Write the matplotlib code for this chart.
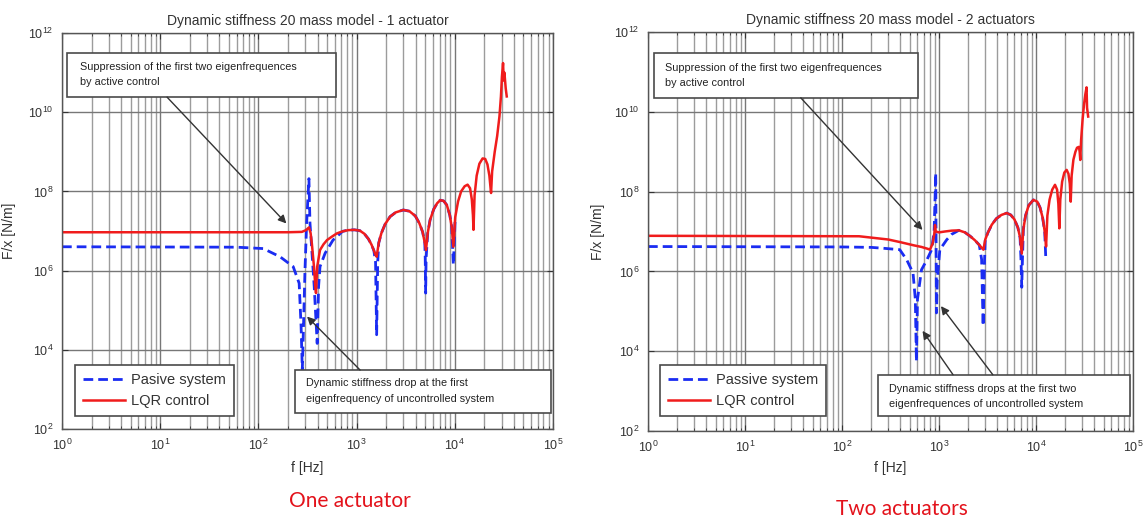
import numpy as np
import matplotlib.pyplot as plt
from matplotlib.patches import Rectangle
from matplotlib.ticker import LogLocator, NullLocator

plt.rcParams['font.family'] = ['Liberation Sans', 'DejaVu Sans']
plt.rcParams['mathtext.fontset'] = 'custom'
plt.rcParams['mathtext.rm'] = 'Liberation Sans'
plt.rcParams['mathtext.it'] = 'Liberation Sans:italic'

# ---- 1 actuator ----
f_lqr_1 = [1, 200, 277, 305, 327, 340, 350, 368, 380, 386, 392, 397, 424, 460, 500,
           560, 630, 720, 820, 950, 1080, 1200, 1320, 1420, 1500, 1560, 1600, 1680,
           1790, 1950, 2190, 2500, 2990, 3450, 3960, 4350, 4700, 4950, 5090, 5300,
           5600, 6100, 6600, 7100, 7700, 8300, 8900, 9300, 9670, 10100, 10800, 11600,
           12600, 13500, 14300, 14900, 15300, 15500, 15900, 16700, 17800, 19200,
           20400, 21500, 22500, 23100, 23400, 24000, 25500, 27000, 28500, 29500,
           30200, 31000, 31500, 32000, 33000, 33800]
k_lqr_1 = [9.3e6, 9.3e6, 9.5e6, 1.05e7, 1.23e7, 8.9e6, 4.9e6, 1.26e6, 4.0e5, 2.7e5,
           6.3e5, 1.26e6, 3.3e6, 4.6e6, 5.9e6, 7.2e6, 8.7e6, 9.8e6, 1.05e7, 1.07e7,
           1.02e7, 8.5e6, 6.3e6, 4.5e6, 3.2e6, 2.5e6, 2.24e6, 5.0e6, 8.9e6, 1.48e7,
           2.3e7, 2.95e7, 3.4e7, 3.16e7, 2.4e7, 1.58e7, 9.5e6, 5.0e6, 3.3e6, 8.9e6,
           1.9e7, 3.55e7, 5.0e7, 6.0e7, 5.75e7, 4.5e7, 2.5e7, 1.26e7, 4.0e6, 2.24e7,
           5.6e7, 1.0e8, 1.35e8, 1.48e8, 1.2e8, 6.3e7, 2.5e7, 1.07e7, 7.9e7, 2.5e8,
           5.0e8, 6.8e8, 6.6e8, 4.8e8, 2.5e8, 1.26e8, 9.1e7, 3.2e8, 1.0e9, 2.5e9,
           7.9e9, 2.5e10, 7.9e10, 1.74e11, 6.3e10, 1.0e11, 4.0e10, 2.5e10]

f_pas_1 = [1, 60, 112, 166, 226, 260, 272, 280, 288, 298, 310, 327, 335, 350, 370,
           397, 410, 424, 478, 575, 720, 820, 950, 1080, 1200, 1320, 1420, 1500,
           1560, 1600, 1640, 1680, 1790, 1950, 2190, 2500, 2990, 3450, 3960, 4350,
           4700, 4950, 5000, 5050, 5100, 5300, 5600, 6100, 6600, 7100, 7700, 8300,
           8900, 9300, 9670, 10100]
k_pas_1 = [4.0e6, 3.9e6, 3.6e6, 2.24e6, 1.26e6, 4.8e5, 4.0e4, 3.2e3, 4.0e4, 1.0e6,
           1.6e7, 2.1e8, 1.6e7, 3.3e6, 4.0e5, 1.45e4, 4.0e5, 1.26e6, 2.75e6, 5.9e6,
           9.8e6, 1.05e7, 1.07e7, 1.02e7, 8.5e6, 6.3e6, 4.5e6, 3.2e6, 1.6e6, 2.4e4,
           1.6e6, 5.0e6, 8.9e6, 1.48e7, 2.3e7, 2.95e7, 3.4e7, 3.16e7, 2.4e7, 1.58e7,
           9.5e6, 5.0e6, 2.0e6, 2.7e5, 2.0e6, 8.9e6, 1.9e7, 3.55e7, 5.0e7, 6.0e7,
           5.75e7, 4.5e7, 2.5e7, 1.26e7, 1.4e6, 2.24e7]

# ---- 2 actuators ----
f_lqr_2 = [1, 150, 300, 400, 550, 660, 760, 807, 860, 895, 910, 925, 1000, 1150,
           1350, 1600, 1850, 2100, 2350, 2600, 2870, 3000, 3200, 3500, 3900, 4400,
           4990, 5500, 6000, 6500, 6850, 7130, 7400, 7800, 8400, 9400, 10300, 11000,
           11700, 12300, 12700, 13100, 13800, 14700, 15700, 16500, 17000, 17400,
           17800, 18600, 19600, 20700, 21600, 22300, 22800, 23300, 24300, 25500,
           26500, 27700, 28200, 28600, 29200, 30200, 31300, 32300, 33200, 33600,
           34500]
k_lqr_2 = [7.8e6, 7.6e6, 6.3e6, 5.4e6, 4.5e6, 4.1e6, 3.7e6, 3.5e6, 5.0e6, 8.9e6,
           1.45e7, 1.0e7, 9.5e6, 1.0e7, 1.05e7, 1.07e7, 9.5e6, 7.6e6, 6.0e6, 4.6e6,
           3.5e6, 6.3e6, 9.5e6, 1.48e7, 2.1e7, 2.6e7, 2.9e7, 2.6e7, 2.0e7, 1.26e7,
           7.1e6, 2.8e6, 1.12e7, 2.5e7, 4.5e7, 6.2e7, 5.6e7, 4.0e7, 2.24e7, 1.0e7,
           4.2e6, 2.5e7, 6.3e7, 1.12e8, 1.48e8, 1.12e8, 5.0e7, 1.2e7, 6.3e7, 1.78e8,
           3.0e8, 3.5e8, 2.8e8, 1.58e8, 5.6e7, 2.5e8, 6.3e8, 1.0e9, 1.26e9, 1.32e9,
           1.0e9, 6.2e8, 2.0e9, 6.3e9, 1.58e10, 2.8e10, 4.1e10, 1.26e10, 7.6e9]

f_pas_2 = [1, 100, 200, 267, 394, 465, 540, 570, 585, 600, 660, 750, 840, 890, 910,
           925, 932, 937, 941, 960, 1020, 1200, 1350, 1600, 1850, 2100, 2350, 2600,
           2750, 2850, 2950, 3000, 3200, 3500, 3900, 4400, 4990, 5500, 6000, 6500,
           6850, 7000, 7130, 7250, 7400, 7800, 8400, 9400, 10300, 11000, 11700,
           12300, 12600]
k_pas_2 = [4.2e6, 4.1e6, 4.0e6, 3.8e6, 3.5e6, 1.95e6, 9.1e5, 2.0e5, 5.6e3, 2.0e5,
           1.1e6, 1.95e6, 3.5e6, 1.0e7, 6.3e7, 2.9e8, 1.0e7, 1.0e6, 9.1e4, 6.3e5,
           3.5e6, 6.2e6, 8.5e6, 1.07e7, 9.5e6, 7.6e6, 6.0e6, 4.6e6, 2.0e6, 4.3e4,
           2.0e6, 6.3e6, 9.5e6, 1.48e7, 2.1e7, 2.6e7, 2.9e7, 2.6e7, 2.0e7, 1.26e7,
           7.1e6, 2.0e6, 4.0e5, 2.0e6, 1.12e7, 2.5e7, 4.5e7, 6.2e7, 5.6e7, 4.0e7,
           2.24e7, 1.0e7, 2.3e6]

y_ticks = [1e2, 1e4, 1e6, 1e8, 1e10, 1e12]

BLUE = '#1a2cf2'
RED = '#f01c1c'
EDGE = '#4a4a4a'


def style_axes(ax):
    ax.set_xscale('log')
    ax.set_yscale('log')
    ax.set_xlim(1, 1e5)
    ax.set_ylim(1e2, 1e12)
    ax.set_yticks(y_ticks)
    ax.yaxis.set_minor_locator(NullLocator())
    ax.xaxis.set_major_locator(LogLocator(base=10, numticks=10))
    ax.xaxis.set_minor_locator(LogLocator(base=10, subs=np.arange(2, 10), numticks=100))
    ax.grid(which='major', color='#777777', lw=1.0)
    ax.grid(which='minor', axis='x', color='#9c9c9c', lw=1.0)
    ax.set_axisbelow(True)
    ax.tick_params(which='both', direction='in', top=True, right=True,
                   labelsize=9, colors='#333333', pad=6)
    ax.tick_params(which='major', length=4)
    ax.tick_params(which='minor', length=2.5)
    for s in ax.spines.values():
        s.set_color('#555555')
        s.set_linewidth(1.0)


def text_box(ax, x0, y0, x1, y1, lines, tx, ty):
    ax.add_patch(Rectangle((x0, y0), x1 - x0, y1 - y0, transform=ax.transAxes,
                           facecolor='white', edgecolor=EDGE, lw=1.2, zorder=5))
    for line, yy in zip(lines, ty):
        ax.text(tx, yy, line, transform=ax.transAxes, fontsize=7.8, color='#222222',
                va='center', ha='left', zorder=6)


def arrow(ax, tail, head):
    ax.annotate('', xy=head, xytext=tail, xycoords='axes fraction',
                textcoords='axes fraction', zorder=7,
                arrowprops=dict(arrowstyle='-|>', color='#333333', lw=1.0,
                                mutation_scale=12, shrinkA=0, shrinkB=0))


def draw_panel(ax, f_pas, k_pas, f_lqr, k_lqr, title, pas_label):
    style_axes(ax)
    ax.plot(f_pas, k_pas, color=BLUE, lw=2.0, dashes=(3.5, 1.8), label=pas_label)
    ax.plot(f_lqr, k_lqr, color=RED, lw=1.8, label='LQR control')
    ax.set_title(title, fontsize=10, color='#333333', pad=6)
    ax.set_xlabel('f [Hz]', fontsize=10, color='#333333')
    ax.set_ylabel('F/x [N/m]', fontsize=10, color='#333333')


def main():
    fig = plt.figure(figsize=(11.45, 5.21), dpi=100)
    ax1 = fig.add_axes([62 / 1145, 1 - 429 / 521, 491 / 1145, 396 / 521])
    ax2 = fig.add_axes([648 / 1145, 1 - 431 / 521, 485 / 1145, 399 / 521])

    draw_panel(ax1, f_pas_1, k_pas_1, f_lqr_1, k_lqr_1,
               'Dynamic stiffness 20 mass model - 1 actuator', 'Pasive system')
    draw_panel(ax2, f_pas_2, k_pas_2, f_lqr_2, k_lqr_2,
               'Dynamic stiffness 20 mass model - 2 actuators', 'Passive system')

    ax1.xaxis.set_label_coords(0.5, -0.08)
    ax2.xaxis.set_label_coords(0.5, -0.075)
    ax1.yaxis.set_label_coords(-0.094, 0.5)
    ax2.yaxis.set_label_coords(-0.089, 0.5)

    for ax, anchor in ((ax1, (0.0265, 0.033)), (ax2, (0.0247, 0.0376))):
        leg = ax.legend(loc='lower left', bbox_to_anchor=anchor, fontsize=10.5,
                        frameon=True, fancybox=False, edgecolor=EDGE, framealpha=1,
                        borderpad=0.55, handlelength=2.9, handletextpad=0.4,
                        labelspacing=0.45, borderaxespad=0)
        leg.get_frame().set_linewidth(1.2)
        for t in leg.get_texts():
            t.set_color('#333333')
        leg.set_zorder(8)

    # annotations, 1 actuator
    text_box(ax1, 0.011, 0.839, 0.559, 0.950,
             ['Suppression of the first two eigenfrequences', 'by active control'],
             0.037, [0.914, 0.876])
    arrow(ax1, (0.214, 0.838), (0.457, 0.519))
    text_box(ax1, 0.4745, 0.041, 0.996, 0.149,
             ['Dynamic stiffness drop at the first',
              'eigenfrequency of uncontrolled system'],
             0.497, [0.115, 0.077])
    arrow(ax1, (0.607, 0.149), (0.499, 0.284))

    # annotations, 2 actuators
    text_box(ax2, 0.0124, 0.835, 0.557, 0.947,
             ['Suppression of the first two eigenfrequences', 'by active control'],
             0.035, [0.910, 0.872])
    arrow(ax2, (0.315, 0.835), (0.566, 0.504))
    text_box(ax2, 0.474, 0.0376, 0.994, 0.141,
             ['Dynamic stiffness drops at the first two',
              'eigenfrequences of uncontrolled system'],
             0.497, [0.106, 0.068])
    arrow(ax2, (0.629, 0.141), (0.566, 0.251))
    arrow(ax2, (0.711, 0.141), (0.604, 0.313))

    fig.text(350 / 1145, 1 - 501 / 521, 'One actuator', color='#e3121b',
             fontsize=15, family=['Lato', 'DejaVu Sans'], ha='center', va='center')
    fig.text(902 / 1145, 1 - 509 / 521, 'Two actuators', color='#e3121b',
             fontsize=15, family=['Lato', 'DejaVu Sans'], ha='center', va='center')

    fig.savefig('out.png', dpi=100)


if __name__ == '__main__':
    main()
